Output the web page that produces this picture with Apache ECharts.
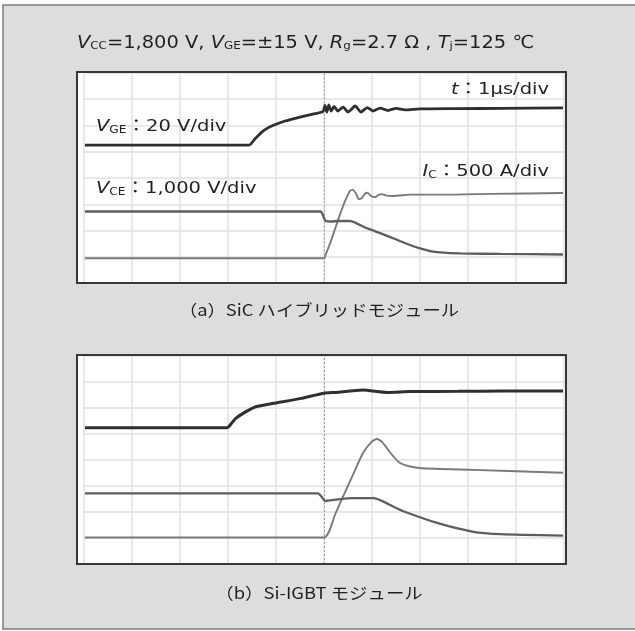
<!DOCTYPE html>
<html><head><meta charset="utf-8">
<script src="https://cdn.jsdelivr.net/npm/echarts@6/dist/echarts.min.js"></script>
<style>html,body{margin:0;padding:0;background:#fff;}#c{width:635px;height:631px;}</style>
</head><body><div id="c"></div>
<script>
// time in µs (1 µs/div), amplitude in oscilloscope divisions
const timeTicks = [0,1,2,3,4,5,6,7,8,9,10];
const sicVGE = [[0.02,5.25],[3.44,5.25],[3.56,5.48],[3.71,5.75],[3.83,5.90],[3.96,6.01],[4.19,6.16],[4.5,6.31],[4.81,6.44],[4.98,6.52],[5.02,6.75],[5.06,6.50],[5.10,6.77],[5.15,6.54],[5.21,6.71],[5.29,6.54],[5.40,6.69],[5.50,6.50],[5.65,6.73],[5.77,6.50],[5.90,6.67],[6.02,6.54],[6.17,6.65],[6.33,6.56],[6.50,6.64],[6.69,6.58],[7.0,6.62],[7.8,6.63],[8.7,6.64],[9.98,6.66]];
const sicVCE = [[0.02,2.73],[4.92,2.73],[4.96,2.67],[5.0,2.48],[5.04,2.37],[5.13,2.35],[5.33,2.37],[5.54,2.37],[5.65,2.31],[5.79,2.18],[5.96,2.05],[6.17,1.91],[6.38,1.76],[6.58,1.61],[6.79,1.46],[7.0,1.33],[7.21,1.23],[7.42,1.18],[7.83,1.14],[8.67,1.12],[9.98,1.10]];
const sicIC = [[0.02,0.955],[5.0,0.955],[5.04,1.12],[5.13,1.54],[5.23,2.07],[5.33,2.60],[5.44,3.13],[5.54,3.51],[5.60,3.56],[5.67,3.40],[5.72,3.20],[5.78,3.22],[5.85,3.40],[5.90,3.44],[5.98,3.32],[6.06,3.27],[6.14,3.36],[6.2,3.39],[6.3,3.33],[6.45,3.32],[6.8,3.37],[7.5,3.37],[8.5,3.40],[9.98,3.43]];
const siVGE = [[0.02,5.24],[2.98,5.24],[3.07,5.40],[3.16,5.60],[3.375,5.86],[3.58,6.05],[3.95,6.18],[4.52,6.37],[5.0,6.57],[5.24,6.60],[5.81,6.69],[6.31,6.60],[6.8,6.63],[7.8,6.64],[8.7,6.65],[9.98,6.65]];
const siVCE = [[0.02,2.72],[4.875,2.72],[4.95,2.59],[5.02,2.43],[5.17,2.46],[5.60,2.53],[6.03,2.53],[6.24,2.40],[6.45,2.20],[6.68,2.01],[7.39,1.56],[8.11,1.24],[8.68,1.15],[9.98,1.09]];
const siIC = [[0.02,1.02],[5.0,1.02],[5.24,1.95],[5.60,3.42],[5.81,4.26],[5.99,4.70],[6.10,4.81],[6.21,4.70],[6.39,4.26],[6.57,3.90],[6.75,3.77],[7.03,3.68],[8.11,3.62],[9.98,3.51]];
const captionA = '（a）SiC ハイブリッドモジュール';
const captionB = '（b）Si-IGBT モジュール';

const F = '"DejaVu Sans","Noto Sans CJK JP",sans-serif';
const FJ = '"Noto Sans CJK JP",sans-serif';
const C = '#231f20';
function rich(S){
  return {
    i:{fontStyle:'italic',fontSize:S,fontFamily:F,color:C},
    s:{fontSize:Math.round(S*0.6),fontFamily:F,color:C,padding:[Math.round(S*0.4),0,0,0]},
    n:{fontSize:S,fontFamily:F,color:C},
    j:{fontSize:S,fontFamily:FJ,color:C}
  };
}
function txt(x,y,text,align,S,sx){
  return {type:'text',x:x,y:y,scaleX:sx||1,z:60,style:{text:text,rich:rich(S),font:S+'px '+F,fill:C,
    align:align,verticalAlign:'middle',textAlign:align,textVerticalAlign:'middle'}};
}
const hdr = '{i|V}{s|CC}{n|=1,800 V, }{i|V}{s|GE}{n|=±15 V, }{i|R}{s|g}{n|=2.7 Ω , }{i|T}{s|j}{n|=125 ℃}';

const axisCommon = {type:'value',min:0,interval:1,axisLine:{show:false},axisTick:{show:false},axisLabel:{show:false},
  splitLine:{show:true,lineStyle:{color:'#e0e0e0',width:1.5}}};
const grids = [
  {left:84,top:72.5,width:480,height:211},
  {left:84,top:356,width:480,height:208}
];
function ser(data,gi,color,w,mark){
  const s = {type:'line',data:data,xAxisIndex:gi,yAxisIndex:gi,showSymbol:false,symbol:'none',smooth:0.2,
    lineStyle:{color:color,width:w},z:5,silent:true};
  if(mark){ s.markLine={silent:true,symbol:['none','none'],label:{show:false},
    lineStyle:{type:[2,2],color:'#a0a0a0',width:1},data:[{xAxis:5}],z:3}; }
  return s;
}
const chart = echarts.init(document.getElementById('c'),null,{renderer:'canvas'});
chart.setOption({
  animation:false,
  grid:grids,
  xAxis:[Object.assign({},axisCommon,{gridIndex:0,max:10}),Object.assign({},axisCommon,{gridIndex:1,max:10})],
  yAxis:[Object.assign({},axisCommon,{gridIndex:0,max:8}),Object.assign({},axisCommon,{gridIndex:1,max:8})],
  series:[
    ser(sicIC,0,'#7a7a7a',1.9,true),
    ser(sicVCE,0,'#5e5e5e',2.3,false),
    ser(sicVGE,0,'#2f2f2f',2.8,false),
    ser(siIC,1,'#7a7a7a',1.9,true),
    ser(siVCE,1,'#5e5e5e',2.3,false),
    ser(siVGE,1,'#2f2f2f',3,false)
  ],
  graphic:[
    {type:'rect',shape:{x:3,y:5,width:640,height:624},style:{fill:'#dcdedd',stroke:'#7d7d7d',lineWidth:1.5},z:-20,silent:true},
    {type:'rect',shape:{x:77,y:72,width:489,height:211},style:{fill:'#ffffff'},z:-10,silent:true},
    {type:'rect',shape:{x:77,y:355,width:489,height:209},style:{fill:'#ffffff'},z:-10,silent:true},
    {type:'rect',shape:{x:77,y:72,width:489,height:211},style:{fill:'none',stroke:'#3a3536',lineWidth:2},z:50,silent:true},
    {type:'rect',shape:{x:77,y:355,width:489,height:209},style:{fill:'none',stroke:'#3a3536',lineWidth:2},z:50,silent:true},
    txt(77,43,hdr,'left',18,1.08),
    txt(549,90,'{i|t}{n|：1μs/div}','right',16,1.22),
    txt(96,127,'{i|V}{s|GE}{n|：20 V/div}','left',16,1.22),
    txt(549,172,'{i|I}{s|C}{n|：500 A/div}','right',16,1.22),
    txt(96,189,'{i|V}{s|CE}{n|：1,000 V/div}','left',16,1.22),
    txt(319,310,'{j|'+captionA+'}','center',16,1.145),
    txt(319,593,'{j|'+captionB+'}','center',16,1.15)
  ]
});
</script></body></html>
